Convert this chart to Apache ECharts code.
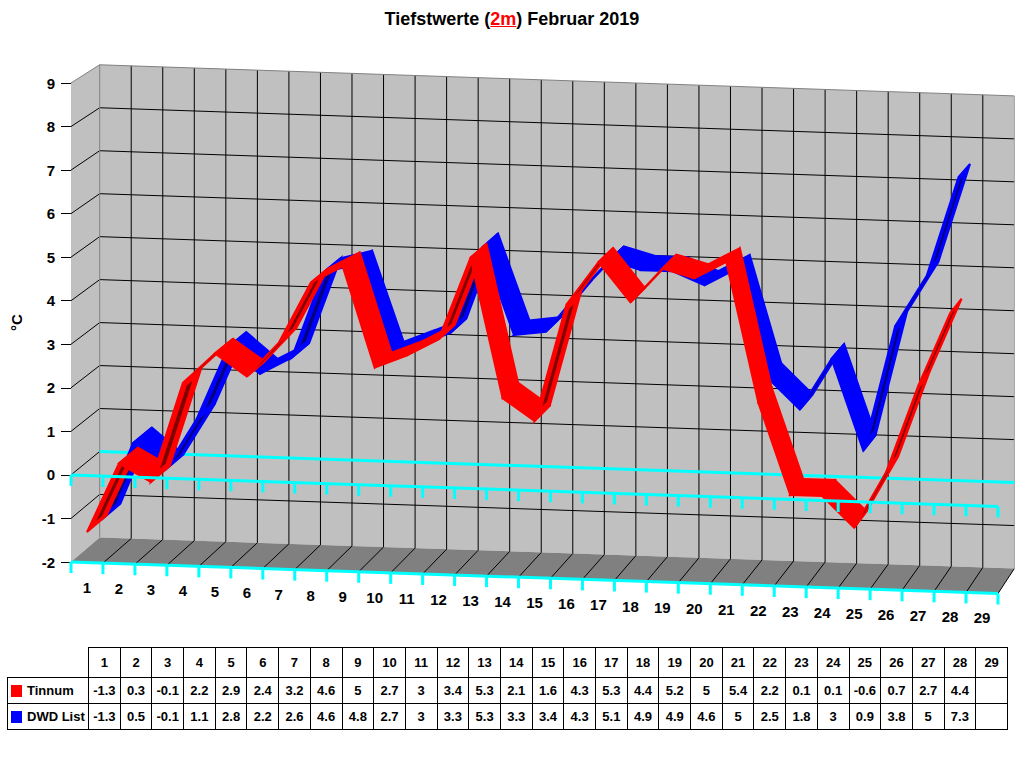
<!DOCTYPE html>
<html>
<head>
<meta charset="utf-8">
<title>Tiefstwerte Februar 2019</title>
<script src="https://cdn.jsdelivr.net/npm/echarts@6/dist/echarts.min.js"></script>
<style>
body { margin: 0; background: #fff; }
#wrap { position: relative; width: 1024px; height: 768px; overflow: hidden; }
#chart { position: absolute; left: 0; top: 0; width: 1024px; height: 768px; }
#title { position: absolute; left: 0; top: 9px; width: 1024px; text-align: center;
	font: bold 18px 'Liberation Sans', Arial, sans-serif; line-height: 21px; color: #000; }
#title span { color: #f00; text-decoration: underline; }
#data { position: absolute; left: 7px; top: 647px; border-collapse: collapse; table-layout: fixed;
	width: 1001px; font: bold 13px 'Liberation Sans', Arial, sans-serif; color: #000; }
#data td { border: 1px solid #000; text-align: center; padding: 0; white-space: nowrap; overflow: hidden; }
#data tr.head td { height: 29px; }
#data tr.row td { height: 25px; }
#data td.corner { border-top: none; border-left: none; }
#data td.lab { text-align: left; padding-left: 3px; font-size: 13px; }
#data .sw { display: inline-block; width: 11px; height: 12px; margin-right: 5px; vertical-align: -2px; }
</style>
</head>
<body>
<div id="wrap">
	<div id="chart"></div>
	<div id="title">Tiefstwerte (<span>2m</span>) Februar 2019</div>
	<table id="data"></table>
</div>
<script>
var days = ['1', '2', '3', '4', '5', '6', '7', '8', '9', '10', '11', '12', '13', '14', '15',
	'16', '17', '18', '19', '20', '21', '22', '23', '24', '25', '26', '27', '28', '29'];
var tinnum = [-1.3, 0.3, -0.1, 2.2, 2.9, 2.4, 3.2, 4.6, 5, 2.7, 3, 3.4, 5.3, 2.1, 1.6,
	4.3, 5.3, 4.4, 5.2, 5, 5.4, 2.2, 0.1, 0.1, -0.6, 0.7, 2.7, 4.4, null];
var dwdList = [-1.3, 0.5, -0.1, 1.1, 2.8, 2.2, 2.6, 4.6, 4.8, 2.7, 3, 3.3, 5.3, 3.3, 3.4,
	4.3, 5.1, 4.9, 4.9, 4.6, 5, 2.5, 1.8, 3, 0.9, 3.8, 5, 7.3, null];
var yMin = -2;
var yMax = 9;

// fake 3d look: depth runs towards a vanishing point up right
var TILT = 0.034;
var VPX = 2227, VPY = -1286, K = 0.0133;
var RIB = 0.68;     // depth of one band (part of the box depth)
var DWD_OFF = 0.5;  // DWD band sits behind Tinnum

function front(api, x, v) {
	var p = api.coord([x, v]);
	var x0 = api.coord([0, 0])[0];
	return [p[0], p[1] + TILT * (p[0] - x0)];
}
function back(p, k) {
	if (k == null) k = 1;
	return [p[0] + k * K * (VPX - p[0]), p[1] + k * K * (VPY - p[1])];
}
function poly(pts, fill, stroke, w) {
	return { type: 'polygon', shape: { points: pts },
		style: { fill: fill, stroke: stroke || null, lineWidth: stroke ? (w || 1) : 0 } };
}
function line(a, b, color, w) {
	return { type: 'line', shape: { x1: a[0], y1: a[1], x2: b[0], y2: b[1] },
		style: { stroke: color, lineWidth: w || 1 } };
}

function renderBack(params, api) {
	var n = days.length;
	var kids = [];
	var fTL = front(api, 0, yMax), fBL = front(api, 0, yMin), fBR = front(api, n, yMin);
	var bTL = back(fTL), bTR = back(front(api, n, yMax));
	var bBL = back(fBL), bBR = back(fBR);
	kids.push(poly([bTL, bTR, bBR, bBL], '#c0c0c0'));
	kids.push(poly([fTL, bTL, bBL, fBL], '#c0c0c0'));
	kids.push(poly([fBL, fBR, bBR, bBL], '#808080'));
	for (var v = yMin + 1; v < yMax; v++) {
		var p = front(api, 0, v);
		if (v != 0) kids.push(line(back(p), back(front(api, n, v)), '#000'));
		kids.push(line(p, back(p), '#000'));
	}
	for (var i = 1; i < n; i++) {
		var q = front(api, i, yMin);
		kids.push(line(back(q), back(front(api, i, yMax)), '#000'));
		kids.push(line(q, back(q), '#000'));
	}
	kids.push(line(fBR, bBR, '#000'));
	kids.push(line(fTL, bTL, '#808080'));
	kids.push(line(bTL, bTR, '#808080'));
	kids.push(line(bTL, bBL, '#808080'));
	kids.push(line(bTR, bBR, '#a0a0a0'));
	kids.push(line(back(front(api, 0, 0)), back(front(api, n, 0)), '#00ffff', 3));
	return { type: 'group', children: kids };
}

function renderFront(params, api) {
	var n = days.length;
	var kids = [];
	[0, yMin].forEach(function (v) {
		kids.push(line(front(api, 0, v), front(api, n, v), '#00ffff', 3));
		for (var i = 0; i <= n; i++) {
			var p = front(api, i, v);
			kids.push(line(p, [p[0], p[1] + 11], '#00ffff', 3));
		}
	});
	for (var j = 0; j < n; j++) {
		var c = front(api, j + 0.5, yMin);
		kids.push({ type: 'text', x: c[0], y: c[1] + 25,
			style: { text: days[j], fill: '#000', align: 'center', verticalAlign: 'middle',
				font: "bold 15px 'Liberation Sans', Arial, sans-serif" } });
	}
	return { type: 'group', children: kids };
}

function ribbon(off, color, dark) {
	return function (params, api) {
		var i = api.value(0), a = api.value(1), b = api.value(2);
		if (isNaN(a) || isNaN(b)) return;
		var f0 = back(front(api, i + 0.5, a), off);
		var f1 = back(front(api, i + 1.5, b), off);
		var kids = [poly([f0, f1, back(f1, RIB), back(f0, RIB)], color, color, 2)];
		var dx = f1[0] - f0[0], dy = f1[1] - f0[1];
		var e0 = back(f0, RIB);
		var ex = e0[0] - f0[0], ey = e0[1] - f0[1];
		// steep rise: the other side of the band shows
		if (dx * ey - dy * ex > 0) {
			var s0 = [f0[0] + dx * 0.08, f0[1] + dy * 0.08];
			var s1 = [f0[0] + dx * 0.92, f0[1] + dy * 0.92];
			kids.push(poly([back(s0, RIB * 0.35), back(s1, RIB * 0.35), back(s1, RIB * 0.65), back(s0, RIB * 0.65)], dark));
		}
		return { type: 'group', children: kids };
	};
}

function segments(values) {
	var out = [];
	for (var i = 0; i < values.length - 1; i++) {
		out.push([i, values[i], values[i + 1] == null ? NaN : values[i + 1]]);
	}
	return out;
}

function buildTable() {
	var html = '<colgroup><col style="width:81px">';
	for (var i = 0; i < days.length; i++) html += '<col style="width:31.7px">';
	html += '</colgroup><tr class="head"><td class="corner"></td>';
	days.forEach(function (d) { html += '<td>' + d + '</td>'; });
	html += '</tr>';
	[['Tinnum', '#ff0000', tinnum], ['DWD List', '#0000ff', dwdList]].forEach(function (r) {
		html += '<tr class="row"><td class="lab"><span class="sw" style="background:' + r[1] + '"></span>' + r[0] + '</td>';
		r[2].forEach(function (v) { html += '<td>' + (v == null ? '' : v) + '</td>'; });
		html += '</tr>';
	});
	document.getElementById('data').innerHTML = html;
}

var myChart = echarts.init(document.getElementById('chart'), null, { renderer: 'svg' });
var option = {
	animation: false,
	grid: { left: 71, top: 83, width: 927, height: 479 },
	xAxis: { type: 'value', min: 0, max: days.length, show: false },
	yAxis: {
		type: 'value', min: yMin, max: yMax, interval: 1,
		name: '°C', nameLocation: 'middle', nameGap: 47, nameRotate: 90,
		nameTextStyle: { color: '#000', fontWeight: 'bold', fontSize: 15, fontFamily: 'Liberation Sans' },
		axisLine: { show: true, lineStyle: { color: '#000', width: 1 } },
		axisTick: { show: true, length: 10, lineStyle: { color: '#000' } },
		axisLabel: { color: '#000', fontWeight: 'bold', fontSize: 15, fontFamily: 'Liberation Sans', margin: 16 },
		splitLine: { show: false }
	},
	series: [
		{ type: 'custom', name: 'back', z: 1, silent: true, data: [[0, 0]], renderItem: renderBack },
		{ type: 'custom', name: 'DWD List', z: 2, data: segments(dwdList), renderItem: ribbon(DWD_OFF, '#0000ff', '#000080') },
		{ type: 'custom', name: 'Tinnum', z: 3, data: segments(tinnum), renderItem: ribbon(0, '#ff0000', '#800000') },
		{ type: 'custom', name: 'front', z: 4, silent: true, data: [[0, 0]], renderItem: renderFront }
	]
};
myChart.setOption(option);
buildTable();
</script>
</body>
</html>
